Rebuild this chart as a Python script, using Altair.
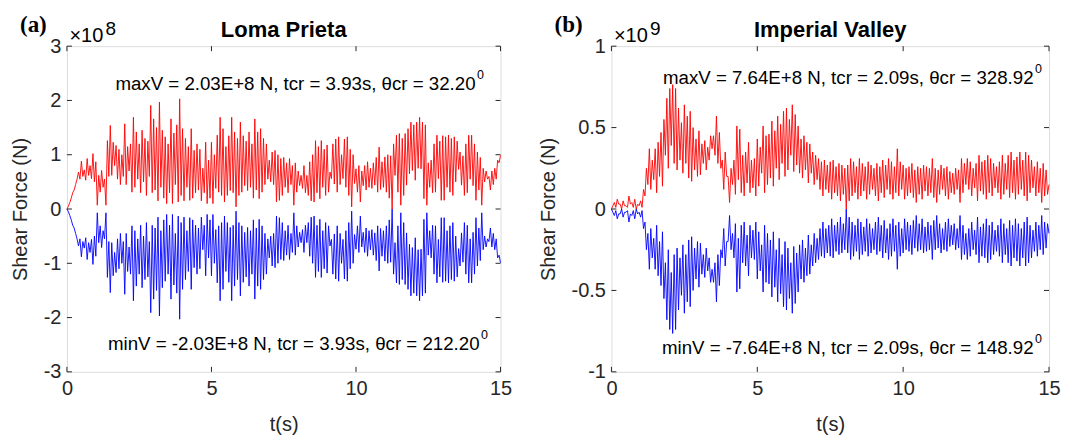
import altair as alt
import pandas as pd

# ---------------- data ----------------
# samples: peaks at t = 0.0, 0.1, ... 14.9 ; troughs at t = 0.05, 0.15, ... 14.95
# Loma Prieta, maximum shear force (x1e8 N)
lp_peaks = [
    0.00, 0.12, 0.30, 0.45, 0.68, 0.88, 0.72, 0.93, 0.80, 1.02,
    0.87, 0.62, 0.71, 0.55, 1.26, 1.54, 1.23, 1.17, 1.10, 1.00,
    1.57, 1.15, 1.20, 1.69, 1.42, 1.20, 1.45, 1.30, 1.25, 1.91,
    1.66, 1.50, 1.97, 1.45, 1.33, 1.20, 1.66, 1.40, 1.55, 2.03,
    1.48, 1.30, 1.15, 1.48, 1.08, 1.20, 1.10, 0.75, 1.23, 0.90,
    1.23, 1.00, 1.36, 1.69, 1.48, 1.15, 1.35, 1.69, 1.42, 1.30,
    1.60, 1.35, 1.25, 1.42, 1.20, 1.66, 1.42, 1.48, 1.30, 1.20,
    0.90, 1.05, 1.08, 1.00, 0.93, 0.95, 0.85, 0.93, 0.80, 0.85,
    0.70, 0.62, 0.80, 0.62, 0.87, 1.00, 1.26, 1.15, 1.26, 1.10,
    1.18, 0.68, 1.20, 1.29, 1.33, 1.00, 1.29, 1.33, 1.10, 1.00,
    0.74, 0.80, 0.70, 0.80, 0.87, 0.75, 0.85, 0.95, 1.14, 0.87,
    0.96, 1.00, 0.98, 1.20, 1.36, 1.39, 1.30, 1.39, 1.48, 1.60,
    1.55, 1.60, 1.69, 1.60, 1.55, 0.85, 0.90, 1.20, 1.36, 1.25,
    1.35, 1.33, 1.36, 1.30, 1.33, 1.25, 1.05, 0.98, 1.20, 1.36,
    1.36, 1.20, 1.05, 0.95, 0.75, 0.70, 0.60, 0.70, 0.75, 0.90,
]
lp_troughs = [
    0.05, 0.20, 0.35, 0.55, 0.55, 0.60, 0.53, 0.62, 0.56, 0.50,
    0.07, 0.31, 0.40, 0.07, 0.60, 0.62, 0.80, 0.55, 0.45, 0.60,
    0.45, 0.70, 0.31, 0.40, 0.55, 0.30, 0.50, 0.25, 0.60, 0.30,
    0.35, 0.15, 0.40, 0.20, 0.10, 0.30, 0.10, 0.45, 0.13, 0.25,
    0.15, 0.40, 0.16, 0.20, 0.30, 0.35, 0.15, 0.30, 0.10, 0.20,
    0.10, 0.38, 0.31, 0.25, 0.13, 0.25, 0.34, 0.30, 0.04, 0.25,
    0.31, 0.43, 0.34, 0.40, 0.20, 0.35, 0.19, 0.31, 0.45, 0.55,
    0.50, 0.45, 0.13, 0.16, 0.25, 0.40, 0.30, 0.45, 0.07, 0.31,
    0.43, 0.38, 0.30, 0.25, 0.15, 0.13, 0.30, 0.19, 0.40, 0.25,
    0.31, 0.56, 0.46, 0.31, 0.45, 0.56, 0.40, 0.25, 0.04, 0.47,
    0.31, 0.13, 0.43, 0.35, 0.40, 0.38, 0.44, 0.31, 0.36, 0.40,
    0.31, 0.20, 0.00, 0.62, 0.31, 0.07, 0.25, 0.44, 0.65, 0.71,
    0.53, 0.75, 0.74, 0.19, 0.07, 0.40, 0.30, 0.31, 0.56, 0.16,
    0.16, 0.40, 0.31, 0.25, 0.50, 0.73, 0.44, 0.25, 0.30, 0.55,
    0.43, 0.16, 0.35, 0.07, 0.50, 0.55, 0.35, 0.45, 0.55, 0.85,
]
lp_end = 0.99

# Imperial Valley, maximum shear force (x1e9 N)
iv_peaks = [
    0.00, 0.04, 0.06, 0.03, 0.05, 0.02, 0.08, 0.04, 0.06, 0.03,
    0.05, 0.12, 0.25, 0.37, 0.30, 0.37, 0.41, 0.47, 0.55, 0.68,
    0.74, 0.764, 0.74, 0.62, 0.53, 0.64, 0.57, 0.60, 0.50, 0.43,
    0.48, 0.40, 0.42, 0.38, 0.45, 0.45, 0.57, 0.47, 0.30, 0.35,
    0.20, 0.25, 0.30, 0.51, 0.49, 0.33, 0.35, 0.41, 0.30, 0.31,
    0.43, 0.38, 0.51, 0.45, 0.46, 0.54, 0.48, 0.57, 0.52, 0.60,
    0.62, 0.55, 0.64, 0.58, 0.51, 0.43, 0.45, 0.41, 0.40, 0.35,
    0.33, 0.31, 0.29, 0.30, 0.27, 0.29, 0.30, 0.26, 0.28, 0.27,
    0.25, 0.27, 0.31, 0.29, 0.26, 0.31, 0.28, 0.26, 0.29, 0.27,
    0.25, 0.28, 0.26, 0.30, 0.27, 0.31, 0.29, 0.26, 0.37, 0.29,
    0.27, 0.25, 0.26, 0.28, 0.24, 0.26, 0.25, 0.27, 0.26, 0.25,
    0.31, 0.25, 0.24, 0.27, 0.25, 0.26, 0.23, 0.22, 0.25, 0.24,
    0.31, 0.28, 0.31, 0.29, 0.25, 0.28, 0.33, 0.29, 0.30, 0.33,
    0.31, 0.28, 0.26, 0.29, 0.33, 0.28, 0.33, 0.35, 0.30, 0.32,
    0.35, 0.30, 0.35, 0.33, 0.30, 0.26, 0.29, 0.25, 0.28, 0.24,
]
iv_troughs = [
    0.02, 0.01, 0.03, 0.00, 0.02, 0.01, 0.03, 0.01, 0.00, 0.02,
    0.01, 0.08, 0.15, 0.12, 0.18, 0.10, 0.20, 0.14, 0.33, 0.25,
    0.39, 0.28, 0.24, 0.30, 0.22, 0.28, 0.19, 0.17, 0.24, 0.20,
    0.21, 0.28, 0.24, 0.30, 0.37, 0.33, 0.28, 0.25, 0.12, 0.20,
    0.04, 0.15, 0.09, 0.18, 0.10, 0.08, 0.16, 0.10, 0.13, 0.08,
    0.14, 0.22, 0.10, 0.15, 0.19, 0.14, 0.25, 0.18, 0.28, 0.20,
    0.24, 0.33, 0.23, 0.27, 0.22, 0.19, 0.24, 0.16, 0.22, 0.15,
    0.18, 0.12, 0.08, 0.12, 0.10, 0.06, 0.10, 0.08, 0.05, 0.09,
    0.00, 0.05, 0.08, 0.10, 0.06, 0.08, 0.11, 0.06, 0.09, 0.12,
    0.08, 0.05, 0.10, 0.07, 0.12, 0.09, 0.06, 0.10, 0.08, 0.12,
    0.06, 0.08, 0.10, 0.07, 0.04, 0.09, 0.06, 0.11, 0.08, 0.10,
    0.07, 0.04, 0.09, 0.12, 0.08, 0.06, 0.10, 0.09, 0.12, 0.04,
    0.10, 0.15, 0.12, 0.08, 0.13, 0.05, 0.11, 0.09, 0.06, 0.10,
    0.08, 0.13, 0.10, 0.06, 0.09, 0.12, 0.07, 0.10, 0.06, 0.09,
    0.12, 0.08, 0.05, 0.10, 0.13, 0.08, 0.10, 0.04, 0.08, 0.09,
]
iv_end = 0.15

x_ticks = [0, 5, 10, 15]
lp_y_ticks = [-3, -2, -1, 0, 1, 2, 3]
iv_y_ticks = [-1, -0.5, 0, 0.5, 1]

titles = ["Loma Prieta", "Imperial Valley"]
letters = ["(a)", "(b)"]
exponents = ["8", "9"]
max_texts = ["maxV = 2.03E+8 N, tcr = 3.93s, θcr = 32.20",
             "maxV = 7.64E+8 N, tcr = 2.09s, θcr = 328.92"]
min_texts = ["minV = -2.03E+8 N, tcr = 3.93s, θcr = 212.20",
             "minV = -7.64E+8 N, tcr = 2.09s, θcr = 148.92"]

FONT = "Liberation Sans"
AXC = "#262626"
H = 326


def series_frame(peaks, troughs, end):
    rows = []
    for i, (p, q) in enumerate(zip(peaks, troughs)):
        rows.append({"t": round(i * 0.1, 3), "v": p})
        rows.append({"t": round(i * 0.1 + 0.05, 3), "v": q})
    rows.append({"t": 15.0, "v": end})
    df_max = pd.DataFrame(rows)
    df_min = df_max.copy()
    df_min["v"] = -df_min["v"]
    return df_max, df_min


def txt(text, x, y, size=18, align="left", weight="normal", font=FONT):
    return alt.Chart(pd.DataFrame({"label": [text]})).mark_text(
        align=align, baseline="alphabetic", fontSize=size, fontWeight=weight,
        font=font, color="black"
    ).encode(x=alt.value(x), y=alt.value(y), text="label:N")


def panel(i, peaks, troughs, end, ydom, yticks, W, ann):
    df_max, df_min = series_frame(peaks, troughs, end)
    xax = alt.Axis(values=x_ticks, title="t(s)", ticks=False, tickSize=0, domain=False,
                   grid=False, labelFontSize=20, titleFontSize=20, labelPadding=7,
                   titlePadding=16, titleFontWeight="normal", labelFlush=False,
                   labelColor=AXC, titleColor=AXC, labelFont=FONT, titleFont=FONT)
    yax = alt.Axis(values=yticks, title="Shear Force (N)", ticks=False, tickSize=0,
                   domain=False, grid=False, labelFontSize=20, titleFontSize=20,
                   labelPadding=6, titlePadding=13, titleFontWeight="normal",
                   labelFlush=False, labelExpr="'' + datum.value",
                   labelColor=AXC, titleColor=AXC, labelFont=FONT, titleFont=FONT)
    xs = alt.Scale(domain=[0, 15], nice=False)
    ys = alt.Scale(domain=ydom, nice=False)
    X = alt.X("t:Q", scale=xs, axis=xax)
    Y = alt.Y("v:Q", scale=ys, axis=yax)

    red = alt.Chart(df_max).mark_line(color="#ff0000", strokeWidth=0.9).encode(x=X, y=Y)
    blue = alt.Chart(df_min).mark_line(color="#0000ff", strokeWidth=0.9).encode(x=X, y=Y)

    xt = pd.DataFrame({"t": x_ticks})
    yt = pd.DataFrame({"v": yticks})
    tb = alt.Chart(xt).mark_rule(color=AXC, strokeWidth=1).encode(
        x=X, y=alt.value(H), y2=alt.value(H - 5))
    tt = alt.Chart(xt).mark_rule(color=AXC, strokeWidth=1).encode(
        x=X, y=alt.value(0), y2=alt.value(5))
    tl = alt.Chart(yt).mark_rule(color=AXC, strokeWidth=1).encode(
        y=Y, x=alt.value(0), x2=alt.value(5))
    tr = alt.Chart(yt).mark_rule(color=AXC, strokeWidth=1).encode(
        y=Y, x=alt.value(W - 5), x2=alt.value(W))

    (mx_end, mx_base, mn_end, mn_base) = ann
    texts = [
        txt(titles[i], W / 2, -9.5, size=22, align="center", weight="bold"),
        txt(letters[i], ann_letter_x[i], -14, size=23, weight="bold", font="Liberation Serif"),
        txt("×10", 2.5, -4.5, size=20),
        txt(exponents[i], 38.5, -11, size=19),
        txt(max_texts[i], mx_end, mx_base, size=18.7, align="right"),
        txt("0", mx_end + 1.5, mx_base - 11, size=12.5),
        txt(min_texts[i], mn_end, mn_base, size=18.7, align="right"),
        txt("0", mn_end + 1.5, mn_base - 11, size=12.5),
    ]
    return alt.layer(red, blue, tb, tt, tl, tr, *texts).properties(width=W, height=H)


ann_letter_x = [-47, -57]

left = panel(0, lp_peaks, lp_troughs, lp_end, [-3, 3], lp_y_ticks, 434,
             (409, 43.5, 413, 304.5))
right = panel(1, iv_peaks, iv_troughs, iv_end, [-1, 1], iv_y_ticks, 438,
              (422.5, 37.7, 422.5, 307.7))

chart = alt.hconcat(left, right, spacing=25).properties(
    padding={"left": 9, "top": 13, "right": 4, "bottom": 4}
).configure_view(stroke=AXC, strokeWidth=1).configure(font=FONT)

chart.save("out.html", embed_options={"renderer": "svg", "actions": False})
